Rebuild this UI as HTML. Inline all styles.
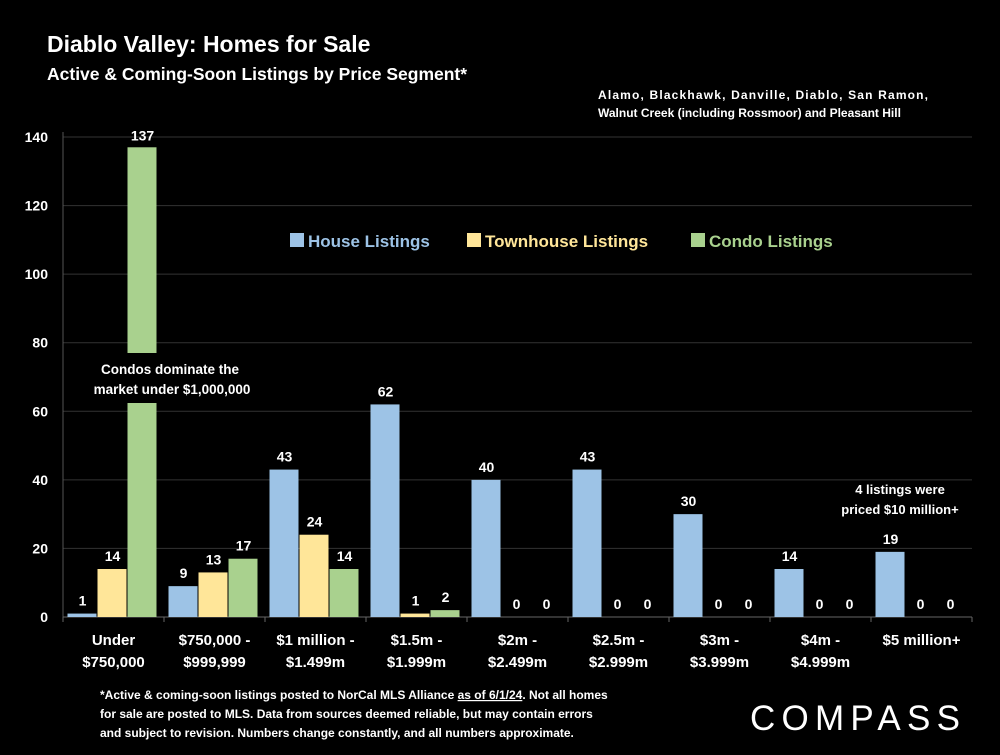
<!DOCTYPE html>
<html><head><meta charset="utf-8"><style>
body{margin:0;background:#000;width:1000px;height:750px;overflow:hidden;font-family:"Liberation Sans",Arial,sans-serif;}
svg text{font-family:"Liberation Sans",Arial,sans-serif;font-weight:bold;fill:#fff;}
</style></head><body>
<svg width="1000" height="750">
<text x="47" y="52" font-size="23">Diablo Valley: Homes for Sale</text>
<text x="47" y="80" font-size="17.5">Active &amp; Coming-Soon Listings by Price Segment*</text>
<text x="598" y="99" font-size="12" textLength="330">Alamo, Blackhawk, Danville, Diablo, San Ramon,</text>
<text x="598" y="117" font-size="12">Walnut Creek (including Rossmoor) and Pleasant Hill</text>
<g id="grid"></g>
<g id="bars"></g>
<g id="labels"></g>
<g id="legend">
<rect x="290" y="233" width="14" height="14" fill="#9dc3e6"/>
<text x="308" y="247" font-size="17" style="fill:#9dc3e6">House Listings</text>
<rect x="467" y="233" width="14" height="14" fill="#ffe699"/>
<text x="485" y="247" font-size="17" style="fill:#ffe699">Townhouse Listings</text>
<rect x="691" y="233" width="14" height="14" fill="#a9d18e"/>
<text x="709" y="247" font-size="17" style="fill:#a9d18e">Condo Listings</text>
</g>
<rect x="110" y="353" width="60" height="50" fill="#000"/>
<text x="170" y="374" font-size="13.5" text-anchor="middle">Condos dominate the</text>
<text x="172" y="394" font-size="13.5" text-anchor="middle">market under $1,000,000</text>
<text x="900" y="494" font-size="13" text-anchor="middle">4 listings were</text>
<text x="900" y="514" font-size="13" text-anchor="middle">priced $10 million+</text>
<text x="100" y="699" font-size="12">*Active &amp; coming-soon listings posted to NorCal MLS Alliance <tspan text-decoration="underline">as of 6/1/24</tspan>. Not all homes</text>
<text x="100" y="718" font-size="12">for sale are posted to MLS. Data from sources deemed reliable, but may contain errors</text>
<text x="100" y="737" font-size="12">and subject to revision. Numbers change constantly, and all numbers approximate.</text>
<text x="750" y="730" font-size="35" style="font-weight:normal" textLength="210" lengthAdjust="spacing">COMPASS</text>
</svg>
<script>
const categories=[["Under","$750,000"],["$750,000 -","$999,999"],["$1 million -","$1.499m"],["$1.5m -","$1.999m"],["$2m -","$2.499m"],["$2.5m -","$2.999m"],["$3m -","$3.999m"],["$4m -","$4.999m"],["$5 million+",""]];
const houseValues=[1,9,43,62,40,43,30,14,19];
const townhouseValues=[14,13,24,1,0,0,0,0,0];
const condoValues=[137,17,14,2,0,0,0,0,0];
const yTicks=[0,20,40,60,80,100,120,140];
const NS="http://www.w3.org/2000/svg";
const x0=63,x1=972,y0=617,yTop=137,ymax=140;
const cw=(x1-x0)/categories.length;
const y=v=>y0-(v/ymax)*(y0-yTop);
function mk(tag,attrs,parent){const e=document.createElementNS(NS,tag);for(const k in attrs)e.setAttribute(k,attrs[k]);parent.appendChild(e);return e;}
const grid=document.getElementById('grid'),bars=document.getElementById('bars'),labels=document.getElementById('labels');
yTicks.forEach(t=>{
  if(t>0){const l=mk('line',{x1:x0,x2:x1,y1:y(t),y2:y(t),stroke:'#333','stroke-width':1},grid);
  
  }
  const tx=mk('text',{x:48,y:y(t)+5,'font-size':14,'text-anchor':'end'},grid);tx.textContent=t;
  
  
});
let ax=mk('line',{x1:x0,x2:x0,y1:yTop-5,y2:y0,stroke:'#555'},grid);


ax=mk('line',{x1:x0,x2:x1,y1:y0,y2:y0,stroke:'#666'},grid);


for(let i=0;i<=categories.length;i++){const t=mk('line',{x1:x0+i*cw,x2:x0+i*cw,y1:y0,y2:y0+5,stroke:'#666'},grid);

}
const series=[[houseValues,'#9dc3e6','house'],[townhouseValues,'#ffe699','townhouse'],[condoValues,'#a9d18e','condo']];
const bw=30;
categories.forEach((c,i)=>{
  const cx=x0+i*cw+cw/2;
  series.forEach((s,j)=>{
    const v=s[0][i];const bx=x0+i*cw+4.5+j*bw;
    if(v>0){const r=mk('rect',{x:bx,y:y(v),width:bw-1,height:y0-y(v),fill:s[1]},bars);
    
    }
    const lt=mk('text',{x:bx+bw/2,y:(v>100?y(v)-7:y(v)-8),'font-size':14,'text-anchor':'middle'},labels);lt.textContent=v;
    
    
  });
  c.forEach((line,k)=>{if(!line)return;const t=mk('text',{x:cx,y:645+k*22,'font-size':15,'text-anchor':'middle'},labels);t.textContent=line;
  
  });
});
</script>
</body></html>
